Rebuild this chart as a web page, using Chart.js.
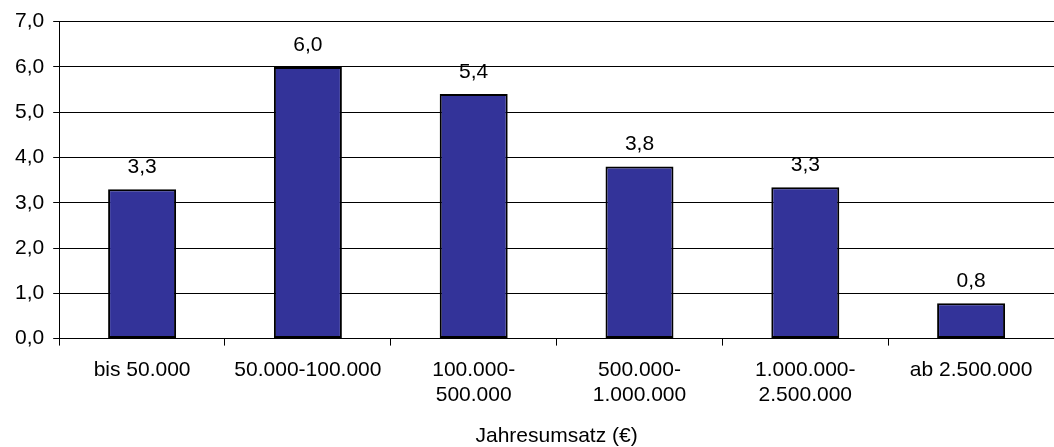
<!DOCTYPE html>
<html>
<head>
<meta charset="utf-8">
<script src="https://cdn.jsdelivr.net/npm/chart.js@4"></script>
<style>
  body { margin: 0; background: #fff; }
  #wrap { width: 1054px; height: 447px; }
</style>
</head>
<body>
<div id="wrap"><canvas id="myChart" width="1054" height="447"></canvas></div>
<script>
// Kategorien und Werte
let kategorien = [
    'bis 50.000',
    '50.000-100.000',
    ['100.000-', '500.000'],
    ['500.000-', '1.000.000'],
    ['1.000.000-', '2.500.000'],
    'ab 2.500.000'
];
let werte = [3.3, 6.0, 5.4, 3.8, 3.34, 0.78];
let achsenTitel = 'Jahresumsatz (€)';

function komma(v){
    return v.toFixed(1).replace('.', ',');
}

// Werte über den Balken
let wertLabels = {
    id: 'wertLabels',
    afterDatasetsDraw(chart){
        let c = chart.ctx;
        let meta = chart.getDatasetMeta(0);
        c.save();
        c.font = '21px "Liberation Sans", Arial, sans-serif';
        c.fillStyle = '#000';
        c.textAlign = 'center';
        c.textBaseline = 'middle';
        meta.data.forEach(function(bar, i){
            c.fillText(komma(werte[i]), bar.x, bar.y - 22);
        });
        c.restore();
    }
};

Chart.defaults.font.family = '"Liberation Sans", Arial, sans-serif';
Chart.defaults.font.size = 21;
Chart.defaults.color = '#000';

let ctx = document.getElementById('myChart').getContext('2d');
let chart = new Chart(ctx, {
    type: 'bar',
    data: {
        labels: kategorien,
        datasets: [{
            data: werte,
            backgroundColor: '#333399',
            borderColor: '#000',
            borderWidth: 2,
            borderSkipped: false,
            categoryPercentage: 1,
            barPercentage: 0.41
        }]
    },
    options: {
        responsive: false,
        animation: false,
        layout: { padding: { top: 14, right: 0, left: 6, bottom: 0 } },
        plugins: {
            legend: { display: false },
            tooltip: { enabled: false }
        },
        scales: {
            x: {
                grid: {
                    offset: true,
                    drawOnChartArea: false,
                    color: '#000',
                    tickLength: 7
                },
                border: { color: '#000', width: 1 },
                ticks: {
                    maxRotation: 0,
                    autoSkip: false,
                    padding: 12,
                    font: { size: 21 }
                },
                title: {
                    display: true,
                    text: achsenTitel,
                    font: { size: 21, lineHeight: 1 },
                    padding: { top: 6, bottom: 0 }
                }
            },
            y: {
                min: 0,
                max: 7,
                grid: {
                    color: '#000',
                    tickLength: 6
                },
                border: { color: '#000', width: 1 },
                ticks: {
                    stepSize: 1,
                    padding: 9,
                    font: { size: 21 },
                    callback: function(v){ return komma(v); }
                }
            }
        }
    },
    plugins: [wertLabels]
});
</script>
</body>
</html>
